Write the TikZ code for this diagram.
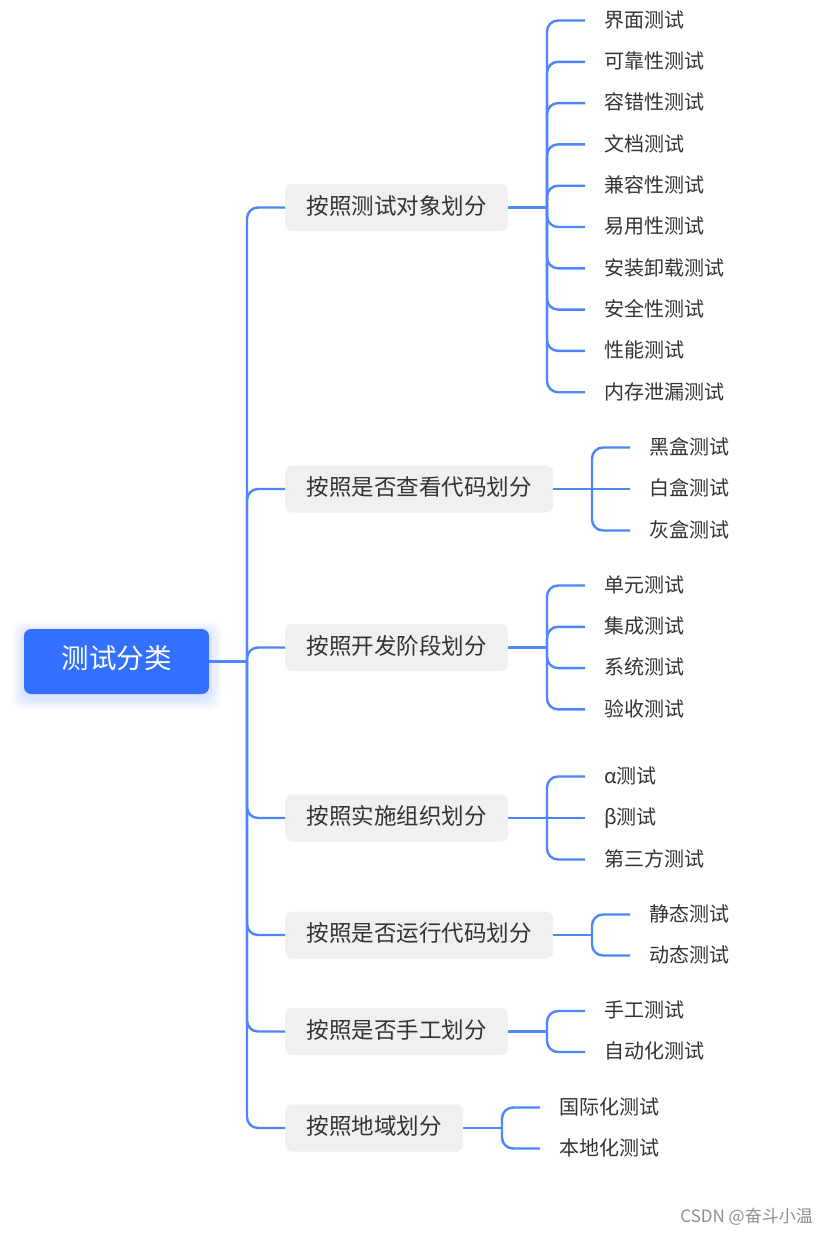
\documentclass[tikz,border=0pt]{standalone}
\usepackage{fontspec}
\setmainfont{Noto Sans CJK SC}
\definecolor{rootblue}{HTML}{3370FF}
\definecolor{lineblue}{HTML}{4D86FA}
\definecolor{boxgray}{HTML}{EFF0F2}
\definecolor{textgray}{HTML}{333333}
\definecolor{wmgray}{HTML}{8F8F8F}
\begin{document}
\begin{tikzpicture}[x=1pt,y=-1pt,
  conn/.style={draw=lineblue, line width=2.4pt, rounded corners=11pt},
  straight/.style={draw=lineblue, line width=2.4pt},
  rootbox/.style={fill=rootblue, rounded corners=7pt, minimum width=185pt, minimum height=65pt, inner sep=0pt, text=white, font=\fontsize{27.5}{30}\selectfont, text height=1.36em, text depth=0pt},
  branch/.style={fill=boxgray, rounded corners=7pt, anchor=west, minimum height=47pt, inner xsep=10pt, inner ysep=0pt, text=textgray, font=\fontsize{22.5}{26}\selectfont, text height=1.34em, text depth=0pt},
  leaf/.style={anchor=west, inner sep=0pt, text=textgray, font=\fontsize{20}{24}\selectfont, text height=1.36em, text depth=0pt},
]
\useasboundingbox[fill=white] (0,0) rectangle (829,1234);

% root glow
\foreach \s/\o in {12/0.03,9/0.04,6/0.05,3/0.06}{
  \fill[rootblue, opacity=\o, rounded corners=10pt] (24-\s,629-\s+4) rectangle (209+\s,694+\s+4);
}
\node[rootbox] (root) at (116.5,661.5) {测试分类};

% branches
\node[branch, minimum width=223pt] (b1) at (285,207.5) {按照测试对象划分};
\node[branch, minimum width=268pt] (b2) at (285,489) {按照是否查看代码划分};
\node[branch, minimum width=223pt] (b3) at (285,647.5) {按照开发阶段划分};
\node[branch, minimum width=223pt] (b4) at (285,818) {按照实施组织划分};
\node[branch, minimum width=268pt] (b5) at (285,935) {按照是否运行代码划分};
\node[branch, minimum width=223pt] (b6) at (285,1031.5) {按照是否手工划分};
\node[branch, minimum width=178pt] (b7) at (285,1128) {按照地域划分};

% trunk
\coordinate (trunk) at (247,661.5);
\draw[straight] (root.east) -- (trunk);
\foreach \b in {b1,b2,b3,b4,b5,b6,b7}{
  \draw[conn] (trunk) |- (\b.west);
}

% junction points
\coordinate (j1) at (547,207.5);
\coordinate (j2) at (592,489);
\coordinate (j3) at (547,647.5);
\coordinate (j4) at (547,818);
\coordinate (j5) at (592,935);
\coordinate (j6) at (547,1031.5);
\coordinate (j7) at (502,1128);
\foreach \i in {1,...,7}{
  \draw[straight] (b\i.east) -- (j\i);
}

% group 1
\foreach \t/\y [count=\k] in {界面测试/20.5,可靠性测试/61.8,容错性测试/103.1,文档测试/144.4,兼容性测试/185.7,易用性测试/227,安装卸载测试/268.3,安全性测试/309.6,性能测试/350.9,内存泄漏测试/392.2}{
  \node[leaf] (a\k) at (604,\y) {\t};
  \draw[conn] (j1) |- ([xshift=-19pt]a\k.west);
}
% group 2
\node[leaf] (c1) at (649,447.5) {黑盒测试};
\node[leaf] (c2) at (649,489) {白盒测试};
\node[leaf] (c3) at (649,530.5) {灰盒测试};
\draw[conn] (j2) |- ([xshift=-19pt]c1.west);
\draw[straight] (j2) -- ([xshift=-19pt]c2.west);
\draw[conn] (j2) |- ([xshift=-19pt]c3.west);
% group 3
\foreach \t/\y [count=\k] in {单元测试/585.5,集成测试/626.8,系统测试/668.1,验收测试/709.4}{
  \node[leaf] (d\k) at (604,\y) {\t};
  \draw[conn] (j3) |- ([xshift=-19pt]d\k.west);
}
% group 4
\node[leaf] (e1) at (604,776.5) {α测试};
\node[leaf] (e2) at (604,818) {β测试};
\node[leaf] (e3) at (604,859.5) {第三方测试};
\draw[conn] (j4) |- ([xshift=-19pt]e1.west);
\draw[straight] (j4) -- ([xshift=-19pt]e2.west);
\draw[conn] (j4) |- ([xshift=-19pt]e3.west);
% group 5
\node[leaf] (f1) at (649,914.5) {静态测试};
\node[leaf] (f2) at (649,955.5) {动态测试};
\draw[conn] (j5) |- ([xshift=-19pt]f1.west);
\draw[conn] (j5) |- ([xshift=-19pt]f2.west);
% group 6
\node[leaf] (g1) at (604,1011) {手工测试};
\node[leaf] (g2) at (604,1052) {自动化测试};
\draw[conn] (j6) |- ([xshift=-19pt]g1.west);
\draw[conn] (j6) |- ([xshift=-19pt]g2.west);
% group 7
\node[leaf] (h1) at (559,1107.5) {国际化测试};
\node[leaf] (h2) at (559,1148.5) {本地化测试};
\draw[conn] (j7) |- ([xshift=-19pt]h1.west);
\draw[conn] (j7) |- ([xshift=-19pt]h2.west);

% watermark
\node[anchor=east, inner sep=0pt, text=wmgray, font=\fontsize{17}{20}\selectfont, text height=1.36em, text depth=0pt] (wm) at (813,1216) {CSDN @奋斗小温};
\end{tikzpicture}
\end{document}
